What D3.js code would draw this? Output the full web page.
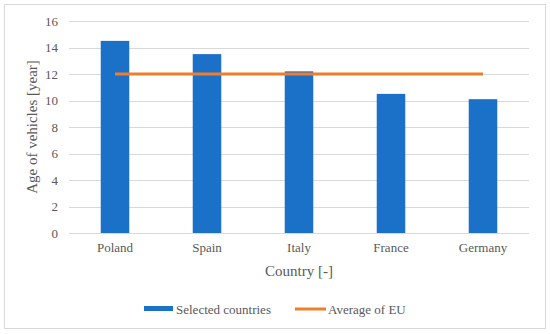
<!DOCTYPE html>
<html>
<head>
<meta charset="utf-8">
<script src="https://cdn.jsdelivr.net/npm/d3@7.9.0/dist/d3.min.js"></script>
<style>
  body { margin: 0; background: #fff; }
  svg { display: block; font-family: "Liberation Serif", "Times New Roman", serif; }
</style>
</head>
<body>
<svg id="chart" width="550" height="334"></svg>
<script>
const countries = ["Poland", "Spain", "Italy", "France", "Germany"];
const vehicleAge = [14.5, 13.5, 12.2, 10.5, 10.1];
const euAverage = [12, 12, 12, 12, 12];
const yTicks = [0, 2, 4, 6, 8, 10, 12, 14, 16];

const svg = d3.select("#chart");
const plotLeft = 69, plotRight = 529, plotTop = 21, plotBottom = 233;
const textColor = "#595959";

// outer border
svg.append("rect")
  .attr("x", 4.5).attr("y", 4.5)
  .attr("width", 541).attr("height", 324)
  .attr("fill", "#fff").attr("stroke", "#d9d9d9");

const x = d3.scaleBand().domain(countries).range([plotLeft, plotRight]).paddingInner(0.69).paddingOuter(0.345);
const y = d3.scaleLinear().domain([0, 16]).range([plotBottom, plotTop]);

// gridlines
svg.append("g")
  .selectAll("line")
  .data(yTicks)
  .join("line")
  .attr("x1", plotLeft).attr("x2", plotRight)
  .attr("y1", d => Math.round(y(d)) + 0.5).attr("y2", d => Math.round(y(d)) + 0.5)
  .attr("stroke", "#d9d9d9").attr("stroke-width", 1);

// y axis labels
const yAxis = svg.append("g")
  .attr("transform", `translate(${plotLeft},0)`)
  .call(d3.axisLeft(y).tickValues(yTicks).tickSize(0).tickPadding(11));
yAxis.select(".domain").remove();
yAxis.selectAll("text")
  .attr("fill", textColor).attr("font-size", 13)
  .attr("font-family", "Liberation Serif, serif");

// bars
svg.append("g")
  .selectAll("rect")
  .data(countries)
  .join("rect")
  .attr("x", d => x(d))
  .attr("width", x.bandwidth())
  .attr("y", (d, i) => y(vehicleAge[i]))
  .attr("height", (d, i) => y(0) - y(vehicleAge[i]))
  .attr("fill", "#1b70c8");

// EU average line
const line = d3.line()
  .x((d, i) => x(countries[i]) + x.bandwidth() / 2)
  .y(d => y(d));
svg.append("path")
  .datum(euAverage)
  .attr("d", line)
  .attr("fill", "none")
  .attr("stroke", "#f07d2a")
  .attr("stroke-width", 3);

// x axis labels
const xAxis = svg.append("g")
  .attr("transform", `translate(0,${plotBottom})`)
  .call(d3.axisBottom(x).tickSize(0).tickPadding(10));
xAxis.select(".domain").remove();
xAxis.selectAll("text")
  .attr("fill", textColor).attr("font-size", 13)
  .attr("font-family", "Liberation Serif, serif");

// axis titles
svg.append("text")
  .attr("x", (plotLeft + plotRight) / 2).attr("y", 276)
  .attr("text-anchor", "middle")
  .attr("fill", textColor).attr("font-size", 15)
  .text("Country [-]");

svg.append("text")
  .attr("transform", `translate(37,${(plotTop + plotBottom) / 2}) rotate(-90)`)
  .attr("text-anchor", "middle")
  .attr("fill", textColor).attr("font-size", 15)
  .text("Age of vehicles [year]");

// legend
const legend = svg.append("g").attr("font-size", 13).attr("fill", textColor);
legend.append("rect")
  .attr("x", 144).attr("y", 306).attr("width", 29).attr("height", 5)
  .attr("fill", "#1b70c8");
legend.append("text").attr("x", 176).attr("y", 313.5).text("Selected countries");
legend.append("line")
  .attr("x1", 295).attr("x2", 326).attr("y1", 309).attr("y2", 309)
  .attr("stroke", "#f07d2a").attr("stroke-width", 3);
legend.append("text").attr("x", 328).attr("y", 313.5).text("Average of EU");
</script>
</body>
</html>
